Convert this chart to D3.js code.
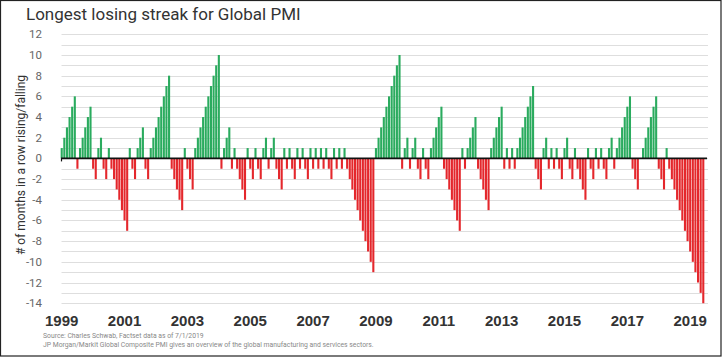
<!DOCTYPE html>
<html><head><meta charset="utf-8">
<script src="https://cdn.jsdelivr.net/npm/d3@7"></script>
<style>
html,body{margin:0;padding:0;background:#fff;}
svg{display:block;}
</style></head>
<body>
<script>
// Monthly streak values, Jan 1999 .. Jun 2019
const streaks = [
  1,2,3,4,5,6, -1, 1,2,3,4,5, -1,-2, 1,2, -1,-2, 1, -1,-2,-3,-4,-5,-6,-7, 1, -1,-2, 1,2,3, -1,-2, 1,2,3,4,5,6,7,8,
  -1,-2,-3,-4,-5, 1, -1,-2,-3, 1,2,3,4,5,6,7,8,9,10, -1, 1,2,3, -1, 1, -1,-2,-3,-4, 1, -1,-2, 1, -1,-2, 1,2, -1, 1,2, -1,-2,-3,
  1,-1,1,-1,-2,1,-1,1,-1,-2,1,-1,1,-1,1,-1,1,-1,-2,1,-1,1,-1,1,
  -1,-2,-3,-4,-5,-6,-7,-8,-9,-10,-11,
  1,2,3,4,5,6,7,8,9,10,
  -1, 1,2, -1, 1,2, -1,-2, 1, -1,-2,
  1,2,3,4,5,
  -1,-2,-3,-4,-5,-6,-7,
  1, -1,
  1,2,3,4,
  -1,-2,-3,-4,-5,
  1,2,3,4,5,
  -1,1,-1,1,-1,
  1,2,3,4,5,6,7,
  -1,-2,-3,
  1,2,-1,1,-1,1,-1,-2,1,2,-1,-2,1,
  -1,-2,-3,-4,
  1,-1,-2,1,-1,1,-1,-2,1,2,-1,
  1,2,3,4,5,6,
  -1,-2,-3,
  0,
  1,2,3,4,5,6,
  -1,-2,-3,
  1,
  -1,-2,-3,-4,-5,-6,-7,-8,-9,-10,-11,-12,-13,-14
];
const startYear = 1999;
const months = streaks.map((d, i) => `${startYear + Math.floor(i / 12)}-${String(i % 12 + 1).padStart(2, "0")}`);
const yearLabels = ["1999","2001","2003","2005","2007","2009","2011","2013","2015","2017","2019"];
const yTicks = [12,10,8,6,4,2,0,-2,-4,-6,-8,-10,-12,-14];
const gridValues = d3.range(-14, 13, 1);

const W = 722, H = 357;
const svg = d3.select("body").append("svg").attr("width", W).attr("height", H);

svg.append("rect").attr("x", 0.5).attr("y", 0.5).attr("width", W - 1.5).attr("height", H - 1.5)
  .attr("fill", "#fff").attr("stroke", "#222").attr("stroke-width", 1.2);

const x = d3.scaleBand().domain(months).range([60.4, 704.6]).paddingInner(0.2).paddingOuter(0.1);
const y = d3.scaleLinear().domain([-14, 12]).range([303.2, 34.3]);

// gridlines
svg.append("g").selectAll("line").data(gridValues).join("line")
  .attr("x1", 61.5).attr("x2", 708)
  .attr("y1", d => Math.round(y(d)) + 0.5).attr("y2", d => Math.round(y(d)) + 0.5)
  .attr("stroke", "#dedede").attr("stroke-width", 1);

// y tick labels
svg.append("g").selectAll("text").data(yTicks).join("text")
  .attr("x", 42).attr("y", d => y(d)).attr("dy", "0.35em")
  .attr("text-anchor", "end")
  .attr("font-family", "Roboto, 'Open Sans', sans-serif").attr("font-size", 11.5)
  .attr("fill", "#666").text(d => d);

// bars
svg.append("g").selectAll("rect").data(streaks.map((v, i) => ({m: months[i], v})).filter(d => d.v !== 0)).join("rect")
  .attr("x", d => x(d.m))
  .attr("width", x.bandwidth())
  .attr("y", d => y(Math.max(0, d.v)))
  .attr("height", d => Math.abs(y(d.v) - y(0)))
  .attr("fill", d => d.v > 0 ? "#2aab5e" : "#e4272c");

// zero line
svg.append("line").attr("x1", 61).attr("x2", 707)
  .attr("y1", y(0)).attr("y2", y(0))
  .attr("stroke", "#111").attr("stroke-width", 1.6);
svg.append("line").attr("x1", 61.5).attr("x2", 61.5)
  .attr("y1", y(0)).attr("y2", y(0) + 3)
  .attr("stroke", "#111").attr("stroke-width", 1.2);

// x labels
svg.append("g").selectAll("text").data(yearLabels).join("text")
  .attr("x", d => x(`${d}-01`) + x.bandwidth() / 2)
  .attr("y", 325.7)
  .attr("text-anchor", "middle")
  .attr("font-family", "'Liberation Sans', Arial, sans-serif").attr("font-weight", "bold")
  .attr("font-size", 15).attr("fill", "#333").text(d => d);

// title
svg.append("text").attr("x", 26).attr("y", 19.5)
  .attr("font-family", "Roboto, 'Open Sans', sans-serif").attr("font-size", 17)
  .attr("fill", "#333").text("Longest losing streak for Global PMI");

// y axis title
svg.append("text")
  .attr("transform", "translate(25,165) rotate(-90)")
  .attr("text-anchor", "middle")
  .attr("font-family", "Roboto, 'Open Sans', sans-serif").attr("font-size", 12)
  .attr("fill", "#333").text("# of months in a row rising/falling");

// footnotes
svg.append("text").attr("x", 43).attr("y", 337.5)
  .attr("font-family", "Roboto, 'Open Sans', sans-serif").attr("font-size", 6.8)
  .attr("fill", "#888").text("Source: Charles Schwab, Factset data as of 7/1/2019");
svg.append("text").attr("x", 43).attr("y", 346.5)
  .attr("font-family", "Roboto, 'Open Sans', sans-serif").attr("font-size", 6.8)
  .attr("fill", "#888").text("JP Morgan/Markit Global Composite PMI gives an overview of the global manufacturing and services sectors.");
</script>
</body></html>
